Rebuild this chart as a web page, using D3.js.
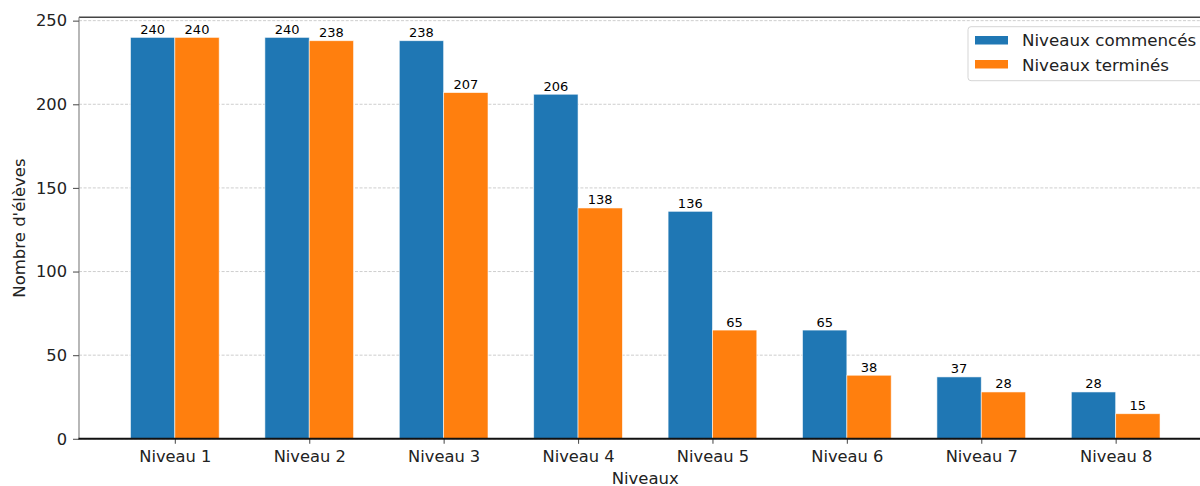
<!DOCTYPE html>
<html>
<head>
<meta charset="utf-8">
<script src="https://cdn.jsdelivr.net/npm/d3@7"></script>
<style>
  html, body { margin: 0; padding: 0; background: #fff; }
  svg { display: block; font-family: "DejaVu Sans", sans-serif; }
</style>
</head>
<body>
<svg id="chart" width="1200" height="486"></svg>
<script>
const categories = ["Niveau 1", "Niveau 2", "Niveau 3", "Niveau 4", "Niveau 5", "Niveau 6", "Niveau 7", "Niveau 8"];
const commences = [240, 240, 238, 206, 136, 65, 37, 28];
const termines = [240, 238, 207, 138, 65, 38, 28, 15];
const yTicks = [0, 50, 100, 150, 200, 250];
const seriesNames = ["Niveaux commencés", "Niveaux terminés"];
const seriesColors = ["#1f77b4", "#ff7f0e"];

const svg = d3.select("#chart");
const barW = 0.33;
const x = d3.scaleLinear().domain([-0.713, 7.713]).range([79, 1211.5]);
const y = d3.scaleLinear().domain([0, 252]).range([438.8, 17.3]);

// grid
svg.append("g").selectAll("line").data(yTicks).join("line")
  .attr("x1", x(-0.713)).attr("x2", x(7.713))
  .attr("y1", d => y(d)).attr("y2", d => y(d))
  .attr("stroke", "#c8c8c8").attr("stroke-width", 0.9)
  .attr("stroke-dasharray", "3,1.6");

// bars
const series = [commences, termines];
series.forEach((vals, si) => {
  const g = svg.append("g");
  g.selectAll("rect").data(vals).join("rect")
    .attr("x", (d, i) => si === 0 ? x(i - barW) : x(i))
    .attr("width", x(barW) - x(0))
    .attr("y", d => y(d))
    .attr("height", d => y(0) - y(d))
    .attr("fill", seriesColors[si])
    .attr("stroke", "#ffffff").attr("stroke-width", 0.8).attr("stroke-opacity", 0.7);
  g.selectAll("text").data(vals).join("text")
    .attr("x", (d, i) => si === 0 ? x(i - barW / 2) : x(i + barW / 2))
    .attr("y", d => y(d) - 3.5)
    .attr("text-anchor", "middle")
    .attr("font-size", 13).attr("fill", "#000")
    .text(d => d);
});

// spines
svg.append("line").attr("x1", x(-0.713)).attr("x2", x(7.713)).attr("y1", y(252)).attr("y2", y(252))
  .attr("stroke", "#444").attr("stroke-width", 1.4);
svg.append("line").attr("x1", x(-0.713)).attr("x2", x(-0.713)).attr("y1", y(0)).attr("y2", y(252))
  .attr("stroke", "#888").attr("stroke-width", 1.2);

// y axis
const yAxis = d3.axisLeft(y).tickValues(yTicks).tickSize(6).tickPadding(6);
const ya = svg.append("g").attr("transform", `translate(${x(-0.713)},0)`).call(yAxis);
ya.select(".domain").remove();
ya.selectAll(".tick line").attr("stroke", "#555").attr("stroke-width", 1.1);
ya.selectAll(".tick text").attr("font-size", 16.3).attr("fill", "#222").attr("font-family", "DejaVu Sans");

// x axis
const xAxis = d3.axisBottom(x).tickValues(d3.range(categories.length)).tickFormat(i => categories[i]).tickSize(5).tickPadding(7);
const xa = svg.append("g").attr("transform", `translate(0,${y(0)})`).call(xAxis);
xa.select(".domain").remove();
xa.selectAll(".tick line").attr("stroke", "#555").attr("stroke-width", 1.1);
xa.selectAll(".tick text").attr("font-size", 16.3).attr("fill", "#222").attr("font-family", "DejaVu Sans");

// bottom spine
svg.append("line").attr("x1", x(-0.713) - 0.5).attr("x2", x(7.713)).attr("y1", y(0)).attr("y2", y(0))
  .attr("stroke", "#111").attr("stroke-width", 2);

// axis labels
svg.append("text").attr("x", (x(-0.713) + x(7.713)) / 2).attr("y", 484)
  .attr("text-anchor", "middle").attr("font-size", 16.5).attr("fill", "#222").text("Niveaux");
svg.append("text").attr("transform", `translate(25,${(y(0) + y(252)) / 2}) rotate(-90)`)
  .attr("text-anchor", "middle").attr("font-size", 16.5).attr("fill", "#222").text("Nombre d'élèves");

// legend
const lg = svg.append("g");
lg.append("rect").attr("x", 968).attr("y", 26.7).attr("width", 260).attr("height", 54).attr("rx", 3)
  .attr("fill", "#fff").attr("fill-opacity", 0.85).attr("stroke", "#d5d5d5").attr("stroke-width", 1);
seriesNames.forEach((name, i) => {
  lg.append("rect").attr("x", 975).attr("y", 36 + i * 24).attr("width", 33).attr("height", 8.5)
    .attr("fill", seriesColors[i]);
  lg.append("text").attr("x", 1022).attr("y", 46 + i * 24.5).attr("font-size", 16.7).attr("fill", "#222").text(name);
});
</script>
</body>
</html>
